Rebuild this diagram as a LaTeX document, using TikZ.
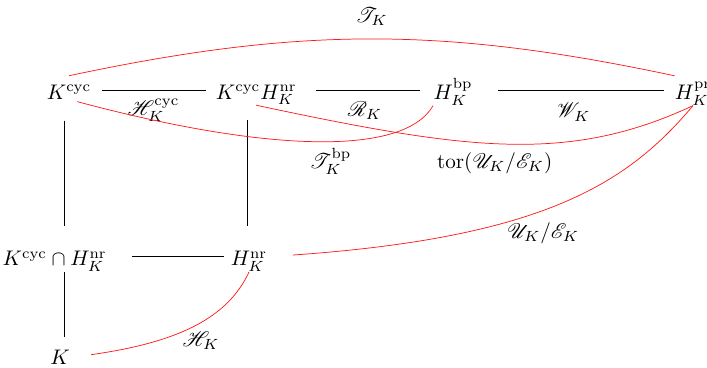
\documentclass[tikz,border=0pt]{standalone}
\usepackage{amsmath,mathrsfs}
\usetikzlibrary{positioning}
\definecolor{edgeRed}{HTML}{FF1A1A}
\tikzset{
    field/.style={inner sep=0pt,anchor=base},
    link/.style={draw=black,line width=0.4pt},
    redlink/.style={draw=edgeRed,line width=0.35pt},
    lab/.style={inner sep=0pt}
}

\begin{document}
\begin{tikzpicture}
    \useasboundingbox (0,0) rectangle (11.783,-6.133);
    % rows and columns of the straight links
    \coordinate (r1) at (0,-1.5);
    \coordinate (r2) at (0,-4.28);
    \coordinate (c1) at (1.07,0);
    \coordinate (c2) at (4.12,0);
    % fields
    \node[field] (kcyc) at (1.15,-1.65) {$K^{\mathrm{cyc}}$};
    \node[field] (kh) at (4.27,-1.65) {$K^{\mathrm{cyc}}H_K^{\mathrm{nr}}$};
    \node[field] (hbp) at (7.55,-1.65) {$H_K^{\mathrm{bp}}$};
    \node[field] (hpr) at (11.55,-1.65) {$H_K^{\mathrm{pr}}$};
    \node[field] (kcap) at (0.91,-4.43) {$K^{\mathrm{cyc}}\cap H_K^{\mathrm{nr}}$};
    \node[field] (hnr) at (4.15,-4.43) {$H_K^{\mathrm{nr}}$};
    \node[field] (k) at (1.0,-6.08) {$K$};
    % straight links
    \draw[link,shorten <=5pt,shorten >=4.5pt] (kcyc.east |- r1) -- (kh.west |- r1)
        node[lab,midway,below=4pt] {$\mathscr{H}_K^{\mathrm{cyc}}$};
    \draw[link,shorten <=9pt,shorten >=6pt] (kh.east |- r1) -- (hbp.west |- r1)
        node[lab,midway,below=5.5pt] {$\mathscr{R}_K$};
    \draw[link,shorten <=12pt,shorten >=5pt] (hbp.east |- r1) -- (hpr.west |- r1)
        node[lab,midway,below=6pt] {$\mathscr{W}_K$};
    \draw[link,shorten <=12pt,shorten >=3pt] (kcap.east |- r2) -- (hnr.west |- r2);
    \draw[link,shorten <=10pt,shorten >=12pt] (kcyc.south -| c1) -- (kcap.north -| c1);
    \draw[link,shorten <=7pt,shorten >=12pt] (kh.south -| c2) -- (hnr.north -| c2);
    \draw[link,shorten >=6pt] (kcap.south -| c1) -- (k.north -| c1);
    % red links
    \draw[redlink] ([yshift=4pt]kcyc.north) to[out=12,in=168]
        node[lab,midway,above=6pt] {$\mathscr{T}_K$} ([yshift=3pt]hpr.north west);
    \draw[redlink,shorten <=4pt] (kcyc.south) .. controls +(-15:3.33) and +(-120:1) .. (hbp.south west)
        node[lab,pos=0.55,below=3pt] {$\mathscr{T}_K^{\mathrm{bp}}$};
    \draw[redlink] (kh.south) .. controls +(-12:3.6) and +(-155:2.3) .. (hpr.south)
        node[lab,pos=0.47,below=4pt] {$\mathrm{tor}(\mathscr{U}_K/\mathscr{E}_K)$};
    \draw[redlink,shorten <=12pt] (hnr.east |- r2) .. controls +(4:4.6) and +(-130:1.7) .. (hpr.south)
        node[lab,pos=0.46,below=6pt] {$\mathscr{U}_K/\mathscr{E}_K$};
    \draw[redlink,shorten <=10pt] (k.east) .. controls +(8:1.85) and +(-115:0.83) .. (hnr.south)
        node[lab,pos=0.55,below=4.5pt] {$\mathscr{H}_K$};
\end{tikzpicture}
\end{document}
